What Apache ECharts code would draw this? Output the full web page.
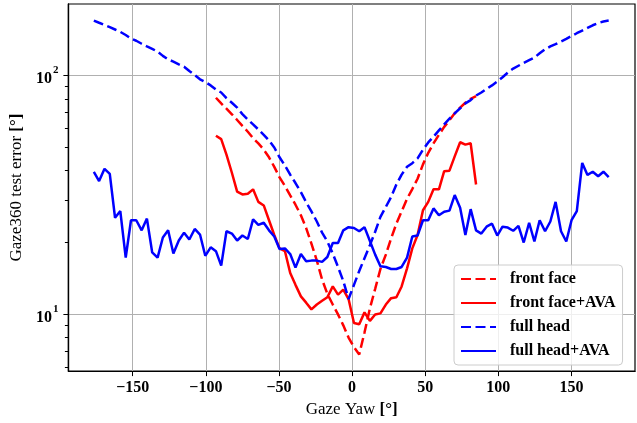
<!DOCTYPE html>
<html>
<head>
<meta charset="utf-8">
<script src="https://cdn.jsdelivr.net/npm/echarts@6/dist/echarts.min.js"></script>
<style>
  body { margin: 0; background: #fff; }
  #chart { width: 637px; height: 423px; }
</style>
</head>
<body>
<div id="chart"></div>
<script>
// gaze yaw bins (degrees), shared by all series
var yaw = [-176.6, -173.0, -169.3, -165.7, -162.1, -158.5, -154.8, -151.2, -147.6, -143.9,
  -140.3, -136.7, -133.0, -129.4, -125.8, -122.2, -118.5, -114.9, -111.3, -107.6,
  -104.0, -100.4, -96.7, -93.1, -89.5, -85.9, -82.2, -78.6, -75.0, -71.3,
  -67.7, -64.1, -60.4, -56.8, -53.2, -49.6, -45.9, -42.3, -38.7, -35.0,
  -31.4, -27.8, -24.1, -20.5, -16.9, -13.2, -9.6, -6.0, -2.4, 1.3,
  4.9, 8.5, 12.2, 15.8, 19.4, 23.1, 26.7, 30.3, 33.9, 37.6,
  41.2, 44.8, 48.5, 52.1, 55.7, 59.4, 63.0, 66.6, 70.2, 73.9,
  77.5, 81.1, 84.8, 88.4, 92.0, 95.7, 99.3, 102.9, 106.5, 110.2,
  113.8, 117.4, 121.1, 124.7, 128.3, 132.0, 135.6, 139.2, 142.9, 146.5,
  150.1, 153.7, 157.4, 161.0, 164.6, 168.3, 171.9, 175.5];

// front face models only cover yaw[23] .. yaw[72]
var frontStart = 23, frontEnd = 73;

var frontFace = [80.8, 76.5, 72.7, 68.9, 65.2, 61.6, 58.2, 54.7, 52.0, 49.0,
  45.5, 41.5, 37.5, 34.5, 31.5, 28.8, 26.0, 23.0, 19.8, 16.8,
  14.0, 12.2, 11.0, 10.0, 9.0, 8.0, 7.3, 6.8, 8.4, 10.6,
  12.8, 15.5, 17.8, 20.8, 24.0, 27.0, 30.5, 33.5, 37.0, 42.5,
  47.5, 52.0, 56.5, 61.0, 65.0, 69.5, 73.5, 77.0, 80.0, 82.0];

var frontFaceAva = [56.0, 54.2, 46.7, 39.2, 32.7, 31.8, 32.0, 33.4, 29.6, 28.6,
  24.8, 21.5, 18.9, 18.4, 14.9, 13.3, 11.9, 11.2, 10.5, 11.0,
  11.4, 11.8, 13.1, 12.1, 12.7, 11.6, 9.2, 9.1, 10.2, 9.4,
  10.0, 10.1, 11.0, 11.7, 11.8, 13.1, 15.6, 18.9, 21.5, 27.3,
  29.6, 33.4, 33.4, 39.8, 40.0, 45.9, 52.6, 51.4, 52.1, 35.0];

var fullHead = [170, 166.5, 163, 159.5, 156, 152.5, 148, 143, 140, 136,
  132.5, 129.5, 126, 121, 117, 114.5, 111.5, 109, 104.5, 100.5,
  96.5, 94, 91, 87.5, 85, 80.5, 77, 73.5, 69, 65.5,
  62.5, 59.5, 56.5, 53.5, 50, 45.5, 42, 38.5, 35.5, 32.5,
  29.5, 27, 24.5, 22, 20.2, 18, 15.8, 13.8, 11.6, 13.3,
  15.2, 17.2, 19.5, 22.2, 25.6, 28.2, 31, 35, 38.5, 41.5,
  43, 45, 49, 52.5, 55.5, 59, 62.5, 66, 69.5, 73,
  76.5, 79, 82.5, 85, 88, 91, 94.5, 98.5, 103, 107,
  110, 113, 116, 119, 124, 129, 132.5, 135.5, 139, 142.5,
  146.5, 150.5, 154.5, 158.5, 162.5, 166, 168.5, 170];

var fullHeadAva = [39.5, 36.2, 40.7, 38.8, 25.4, 27.1, 17.3, 24.8, 24.8, 22.5,
  25.2, 18.2, 17.3, 21.0, 22.5, 18.0, 20.4, 22.0, 20.6, 22.8,
  21.6, 17.6, 19.1, 18.4, 16.0, 22.3, 21.8, 20.4, 21.4, 20.7,
  25.0, 23.7, 24.2, 22.5, 21.2, 18.8, 18.9, 17.9, 15.7, 17.9,
  16.7, 16.8, 16.8, 16.6, 17.4, 19.9, 19.9, 22.5, 23.2, 23.0,
  22.3, 23.2, 20.3, 17.8, 15.9, 15.8, 15.5, 15.5, 15.8, 17.3,
  21.2, 21.4, 24.8, 24.8, 27.8, 26.0, 26.9, 27.2, 31.6, 28.0,
  21.5, 27.6, 22.5, 21.8, 23.3, 24.0, 21.4, 23.3, 23.1, 22.4,
  23.5, 20.0, 24.2, 20.2, 24.8, 22.3, 24.5, 29.6, 22.3, 20.2,
  24.8, 27.1, 43.1, 38.4, 39.6, 37.9, 39.6, 37.6];

var xTicks = [-150, -100, -50, 0, 50, 100, 150];
var yMajor = [10, 100];
var yMinor = [6, 7, 8, 9, 20, 30, 40, 50, 60, 70, 80, 90];

var serif = '"Liberation Serif", "DejaVu Serif", serif';

function pairs(xs, ys) {
  return ys.map(function (y, i) { return [xs[i], y]; });
}
var yawFront = yaw.slice(frontStart, frontEnd);

var option = {
  animation: false,
  backgroundColor: '#fff',
  grid: {
    left: 67, right: 2, top: 4, bottom: 49,
    show: true, borderColor: '#000', borderWidth: 1.2
  },
  legend: {
    orient: 'vertical',
    left: 454, top: 265,
    itemWidth: 35, itemHeight: 14, itemGap: 8,
    padding: [6, 7, 6, 6],
    backgroundColor: 'rgba(255,255,255,0.8)',
    borderColor: '#cccccc', borderWidth: 1, borderRadius: 4,
    itemStyle: { opacity: 0 },
    textStyle: { fontFamily: serif, fontWeight: 'bold', fontSize: 16, color: '#000', padding: [0, 0, 0, 9] },
    data: ['front face', 'front face+AVA', 'full head', 'full head+AVA']
  },
  xAxis: {
    type: 'value', min: -194, max: 193.5,
    name: '{n|Gaze Yaw }{b|[°]}', nameLocation: 'middle', nameGap: 26,
    nameTextStyle: {
      rich: {
        n: { fontFamily: serif, fontSize: 17, color: '#000' },
        b: { fontFamily: serif, fontSize: 17, fontWeight: 'bold', color: '#000' }
      }
    },
    axisLine: { show: true, onZero: false, lineStyle: { color: '#000', width: 1.2 } },
    axisTick: { show: true, length: 5, customValues: xTicks, lineStyle: { color: '#000' } },
    axisLabel: {
      customValues: xTicks, margin: 9,
      fontFamily: serif, fontWeight: 'bold', fontSize: 16, color: '#000',
      formatter: function (v) { return v < 0 ? '\u2212' + Math.abs(v) : String(v); }
    },
    splitLine: { show: true, lineStyle: { color: '#b0b0b0', width: 1 } }
  },
  yAxis: [{
    type: 'log', logBase: 10, min: 5.79, max: 199.5, position: 'left',
    name: '{n|Gaze360 test error }{b|[°]}', nameLocation: 'middle', nameGap: 42, nameRotate: 90,
    nameTextStyle: {
      rich: {
        n: { fontFamily: serif, fontSize: 17, color: '#000' },
        b: { fontFamily: serif, fontSize: 17, fontWeight: 'bold', color: '#000' }
      }
    },
    axisLine: { show: true, onZero: false, lineStyle: { color: '#000', width: 1.2 } },
    axisTick: { show: true, length: 5, customValues: yMajor, lineStyle: { color: '#000' } },
    axisLabel: {
      customValues: yMajor, margin: 10,
      formatter: function (v) {
        return '{b|10}{s|' + Math.round(Math.log10(v)) + '}';
      },
      rich: {
        b: { fontFamily: serif, fontWeight: 'bold', fontSize: 16, color: '#000', lineHeight: 22, verticalAlign: 'bottom' },
        s: { fontFamily: serif, fontWeight: 'bold', fontSize: 11, color: '#000', lineHeight: 22, verticalAlign: 'top', padding: [0, 0, 0, 1] }
      }
    },
    splitLine: { show: true, lineStyle: { color: '#b0b0b0', width: 1 } }
  }, {
    // minor ticks only
    type: 'log', logBase: 10, min: 5.79, max: 199.5, position: 'left',
    axisLine: { show: true, onZero: false, lineStyle: { color: '#000', width: 1.2 } },
    axisTick: { show: true, length: 3.5, customValues: yMinor, lineStyle: { color: '#000', width: 1 } },
    axisLabel: { show: false },
    splitLine: { show: false }
  }],
  series: [{
    name: 'front face', type: 'line', symbol: 'none',
    lineStyle: { color: '#ff0000', width: 2.5, type: [10, 4.5] },
    itemStyle: { color: '#ff0000' },
    data: pairs(yawFront, frontFace)
  }, {
    name: 'front face+AVA', type: 'line', symbol: 'none',
    lineStyle: { color: '#ff0000', width: 2.5 },
    itemStyle: { color: '#ff0000' },
    data: pairs(yawFront, frontFaceAva)
  }, {
    name: 'full head', type: 'line', symbol: 'none',
    lineStyle: { color: '#0000ff', width: 2.5, type: [10, 4.5] },
    itemStyle: { color: '#0000ff' },
    data: pairs(yaw, fullHead)
  }, {
    name: 'full head+AVA', type: 'line', symbol: 'none',
    lineStyle: { color: '#0000ff', width: 2.5 },
    itemStyle: { color: '#0000ff' },
    data: pairs(yaw, fullHeadAva)
  }]
};

var myChart = echarts.init(document.getElementById('chart'));
myChart.setOption(option);
</script>
</body>
</html>
